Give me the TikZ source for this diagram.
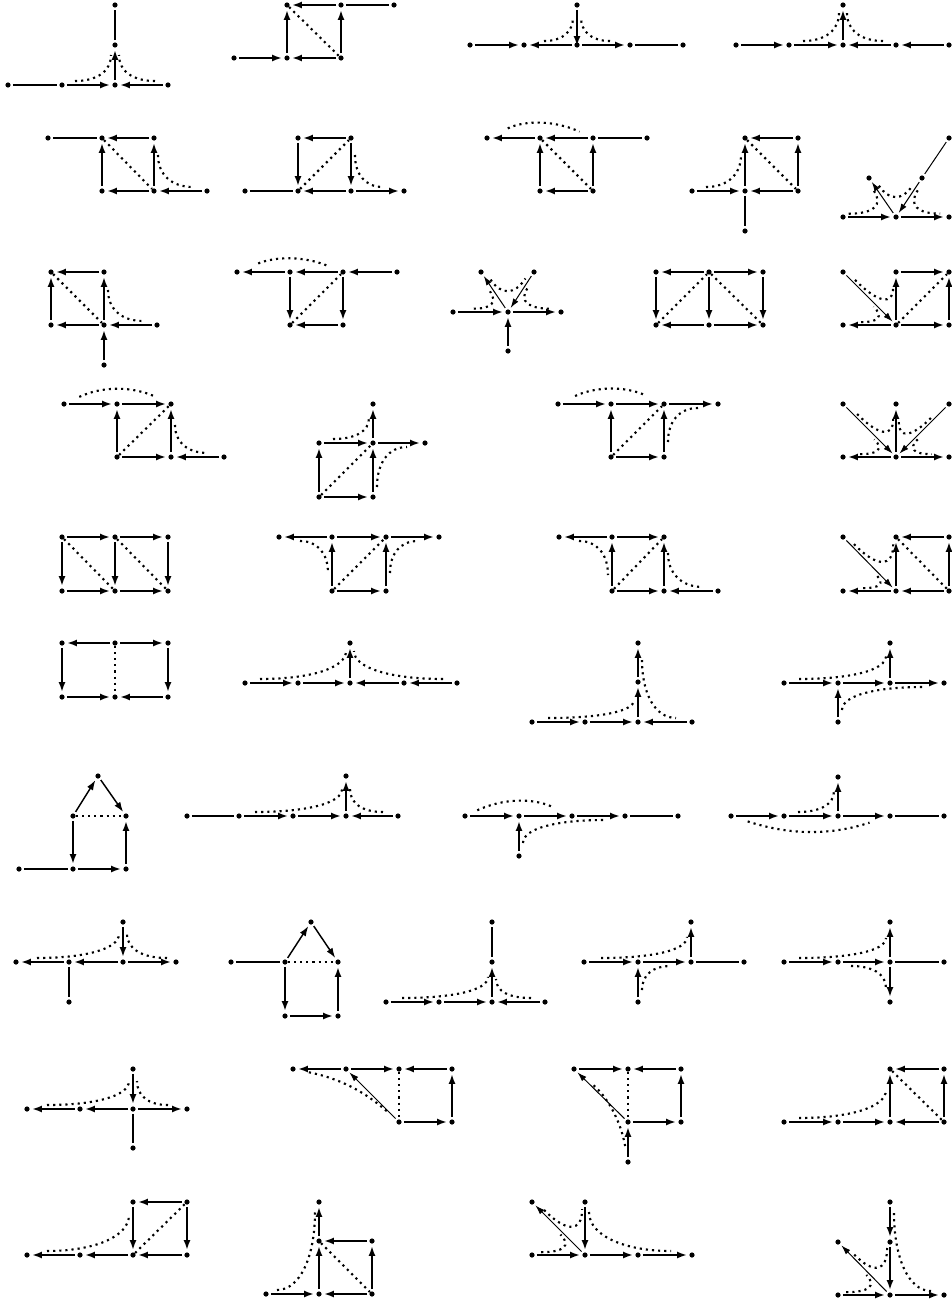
\documentclass[tikz,border=0pt]{standalone}
\usetikzlibrary{arrows.meta, calc}
\tikzset{
    vertex/.style={circle, fill, inner sep=0pt, minimum size=3.9pt},
    arr/.style={-{Latex[length=7.5pt,width=5.2pt]}, line width=1.6pt,
                shorten <=1.5pt, shorten >=1.5pt},
    barr/.style={arr, line width=2.1pt},
    marr/.style={arr, line width=1.1pt},
    tarr/.style={-{Latex[length=7pt,width=4.6pt]}, line width=0.75pt,
                 shorten <=1.5pt, shorten >=1.5pt},
    seg/.style={-, line width=1.6pt, shorten <=1.5pt, shorten >=1.5pt},
    bseg/.style={seg, line width=2.1pt},
    tseg/.style={seg, line width=0.75pt},
    dotl/.style={line width=1.6pt, dash pattern=on 1.6pt off 3pt},
}
% dotted curve in the corner at #1 between the arms to #2 and #3,
% reaching #4 and #5 units along them
\newcommand{\cornerdots}[5]{%
    \draw[dotl] ($(#1.center)!#4*0.75pt!(#2.center) + (#1.center)!3pt!(#3.center) - (#1.center)$)
        .. controls ($(#1.center)!#4*0.34pt!(#2.center) + (#1.center)!3pt!(#3.center) - (#1.center)$)
        and ($(#1.center)!3pt!(#2.center) + (#1.center)!#5*0.34pt!(#3.center) - (#1.center)$)
        .. ($(#1.center)!3pt!(#2.center) + (#1.center)!#5*0.75pt!(#3.center) - (#1.center)$);}

\begin{document}
\begin{tikzpicture}[x=0.75pt, y=0.75pt]
    \useasboundingbox (0,0) rectangle (952,-1303);

    % row 1
    \node[vertex] (g1a) at (8,-85) {};   \node[vertex] (g1b) at (62,-85) {};
    \node[vertex] (g1c) at (115,-85) {}; \node[vertex] (g1d) at (168,-85) {};
    \node[vertex] (g1e) at (115,-45) {}; \node[vertex] (g1f) at (115,-5) {};
    \draw[seg] (g1a) -- (g1b); \draw[arr] (g1b) -- (g1c); \draw[arr] (g1d) -- (g1c);
    \draw[arr] (g1c) -- (g1e); \draw[seg] (g1e) -- (g1f);
    \cornerdots{g1c}{g1b}{g1e}{40}{30} \cornerdots{g1c}{g1d}{g1e}{40}{30}

    \node[vertex] (g2a) at (234,-58) {}; \node[vertex] (g2b) at (287,-58) {};
    \node[vertex] (g2c) at (341,-58) {}; \node[vertex] (g2d) at (287,-5) {};
    \node[vertex] (g2e) at (341,-5) {};  \node[vertex] (g2f) at (394,-5) {};
    \draw[arr] (g2a) -- (g2b); \draw[arr] (g2c) -- (g2b); \draw[arr] (g2b) -- (g2d);
    \draw[arr] (g2c) -- (g2e); \draw[arr] (g2e) -- (g2d); \draw[seg] (g2e) -- (g2f);
    \draw[dotl] (g2d) -- (g2c);

    \node[vertex] (g3a) at (470,-45) {}; \node[vertex] (g3b) at (524,-45) {};
    \node[vertex] (g3c) at (577,-45) {}; \node[vertex] (g3d) at (577,-5) {};
    \node[vertex] (g3e) at (630,-45) {}; \node[vertex] (g3f) at (683,-45) {};
    \draw[arr] (g3a) -- (g3b); \draw[arr] (g3c) -- (g3b); \draw[arr] (g3c) -- (g3e);
    \draw[seg] (g3e) -- (g3f); \draw[barr, shorten >=-3pt] (g3d) -- (g3c);
    \cornerdots{g3c}{g3b}{g3d}{33}{28} \cornerdots{g3c}{g3e}{g3d}{33}{28}

    \node[vertex] (g4a) at (736,-45) {}; \node[vertex] (g4b) at (789,-45) {};
    \node[vertex] (g4c) at (843,-45) {}; \node[vertex] (g4d) at (843,-5) {};
    \node[vertex] (g4e) at (896,-45) {}; \node[vertex] (g4f) at (949,-45) {};
    \draw[arr] (g4a) -- (g4b); \draw[arr] (g4b) -- (g4c); \draw[arr] (g4e) -- (g4c);
    \draw[arr] (g4f) -- (g4e); \draw[arr] (g4c) -- (g4d);
    \cornerdots{g4c}{g4b}{g4d}{40}{32} \cornerdots{g4c}{g4e}{g4d}{40}{32}

    % row 2
    \node[vertex] (g5a) at (48,-138) {};  \node[vertex] (g5b) at (102,-138) {};
    \node[vertex] (g5c) at (154,-138) {}; \node[vertex] (g5d) at (102,-191) {};
    \node[vertex] (g5e) at (154,-191) {}; \node[vertex] (g5f) at (207,-191) {};
    \draw[seg] (g5a) -- (g5b); \draw[arr] (g5c) -- (g5b); \draw[arr] (g5e) -- (g5d);
    \draw[arr] (g5f) -- (g5e); \draw[arr] (g5d) -- (g5b); \draw[arr] (g5e) -- (g5c);
    \draw[dotl] (g5b) -- (g5e);
    \cornerdots{g5e}{g5c}{g5f}{36}{39}

    \node[vertex] (g6a) at (245,-191) {}; \node[vertex] (g6b) at (298,-191) {};
    \node[vertex] (g6c) at (351,-191) {}; \node[vertex] (g6d) at (404,-191) {};
    \node[vertex] (g6e) at (298,-138) {}; \node[vertex] (g6f) at (351,-138) {};
    \draw[seg] (g6a) -- (g6b); \draw[arr] (g6f) -- (g6e); \draw[barr] (g6e) -- (g6b);
    \draw[barr] (g6f) -- (g6c); \draw[arr] (g6c) -- (g6b); \draw[arr] (g6c) -- (g6d);
    \draw[dotl] (g6b) -- (g6f);
    \cornerdots{g6c}{g6f}{g6d}{36}{32}

    \node[vertex] (g7a) at (487,-138) {}; \node[vertex] (g7b) at (540,-138) {};
    \node[vertex] (g7c) at (593,-138) {}; \node[vertex] (g7d) at (647,-138) {};
    \node[vertex] (g7e) at (540,-191) {}; \node[vertex] (g7f) at (593,-191) {};
    \draw[arr] (g7b) -- (g7a); \draw[arr] (g7c) -- (g7b); \draw[seg] (g7c) -- (g7d);
    \draw[arr] (g7f) -- (g7e); \draw[arr] (g7e) -- (g7b); \draw[arr] (g7f) -- (g7c);
    \draw[dotl] (g7b) -- (g7f);
    \draw[dotl, shorten <=15pt, shorten >=9pt] (g7a) to[bend left=25] (g7c);

    \node[vertex] (g8a) at (692,-191) {}; \node[vertex] (g8b) at (745,-191) {};
    \node[vertex] (g8c) at (798,-191) {}; \node[vertex] (g8d) at (745,-138) {};
    \node[vertex] (g8e) at (798,-138) {}; \node[vertex] (g8f) at (745,-231) {};
    \draw[arr] (g8e) -- (g8d); \draw[arr] (g8a) -- (g8b); \draw[arr] (g8c) -- (g8b);
    \draw[arr] (g8b) -- (g8d); \draw[arr] (g8c) -- (g8e); \draw[seg] (g8b) -- (g8f);
    \draw[dotl] (g8d) -- (g8c);
    \cornerdots{g8b}{g8a}{g8d}{39}{36}

    \node[vertex] (g9a) at (843,-217) {}; \node[vertex] (g9b) at (896,-217) {};
    \node[vertex] (g9c) at (949,-217) {}; \node[vertex] (g9d) at (869,-178) {};
    \node[vertex] (g9e) at (922,-178) {}; \node[vertex] (g9f) at (949,-138) {};
    \draw[barr] (g9a) -- (g9b); \draw[barr] (g9b) -- (g9c); \draw[tarr] (g9b) -- (g9d);
    \draw[tseg] (g9f) -- (g9e); \draw[tarr] (g9e) -- (g9b);
    \cornerdots{g9b}{g9a}{g9d}{45}{32} \cornerdots{g9b}{g9d}{g9e}{34}{34}
    \cornerdots{g9b}{g9e}{g9c}{32}{42}

    % row 3
    \node[vertex] (g10a) at (51,-272) {};  \node[vertex] (g10b) at (104,-272) {};
    \node[vertex] (g10c) at (51,-325) {};  \node[vertex] (g10d) at (104,-325) {};
    \node[vertex] (g10e) at (157,-325) {}; \node[vertex] (g10f) at (104,-365) {};
    \draw[arr] (g10b) -- (g10a); \draw[barr] (g10c) -- (g10a); \draw[arr] (g10d) -- (g10b);
    \draw[arr] (g10d) -- (g10c); \draw[arr] (g10e) -- (g10d); \draw[barr] (g10f) -- (g10d);
    \draw[dotl] (g10a) -- (g10d);
    \cornerdots{g10d}{g10b}{g10e}{35}{39}

    \node[vertex] (g11a) at (237,-272) {}; \node[vertex] (g11b) at (290,-272) {};
    \node[vertex] (g11c) at (343,-272) {}; \node[vertex] (g11d) at (397,-272) {};
    \node[vertex] (g11e) at (290,-325) {}; \node[vertex] (g11f) at (343,-325) {};
    \draw[arr] (g11b) -- (g11a); \draw[arr] (g11c) -- (g11b); \draw[arr] (g11d) -- (g11c);
    \draw[arr] (g11b) -- (g11e); \draw[arr] (g11c) -- (g11f); \draw[arr] (g11f) -- (g11e);
    \draw[dotl] (g11e) -- (g11c);
    \draw[dotl, shorten <=15pt, shorten >=11pt] (g11a) to[bend left=22] (g11c);

    \node[vertex] (g12a) at (453,-312) {}; \node[vertex] (g12b) at (508,-312) {};
    \node[vertex] (g12c) at (561,-312) {}; \node[vertex] (g12d) at (481,-272) {};
    \node[vertex] (g12e) at (534,-272) {}; \node[vertex] (g12f) at (508,-351) {};
    \draw[barr] (g12a) -- (g12b); \draw[barr] (g12b) -- (g12c); \draw[tarr] (g12b) -- (g12d);
    \draw[tarr] (g12e) -- (g12b); \draw[barr] (g12f) -- (g12b);
    \cornerdots{g12b}{g12a}{g12d}{32}{25} \cornerdots{g12b}{g12d}{g12e}{35}{36}
    \cornerdots{g12b}{g12e}{g12c}{28}{40}

    \node[vertex] (g13a) at (656,-272) {}; \node[vertex] (g13b) at (709,-272) {};
    \node[vertex] (g13c) at (763,-272) {}; \node[vertex] (g13d) at (656,-325) {};
    \node[vertex] (g13e) at (709,-325) {}; \node[vertex] (g13f) at (763,-325) {};
    \draw[arr] (g13b) -- (g13a); \draw[arr] (g13b) -- (g13c); \draw[arr] (g13a) -- (g13d);
    \draw[arr] (g13b) -- (g13e); \draw[arr] (g13c) -- (g13f); \draw[arr] (g13e) -- (g13d);
    \draw[arr] (g13e) -- (g13f);
    \draw[dotl] (g13d) -- (g13b); \draw[dotl] (g13b) -- (g13f);

    \node[vertex] (g14a) at (843,-272) {}; \node[vertex] (g14b) at (896,-272) {};
    \node[vertex] (g14c) at (949,-272) {}; \node[vertex] (g14d) at (843,-325) {};
    \node[vertex] (g14e) at (896,-325) {}; \node[vertex] (g14f) at (949,-325) {};
    \draw[tarr] (g14a) -- (g14e); \draw[arr] (g14e) -- (g14b); \draw[arr] (g14b) -- (g14c);
    \draw[arr] (g14e) -- (g14d); \draw[arr] (g14e) -- (g14f); \draw[barr] (g14f) -- (g14c);
    \draw[dotl] (g14e) -- (g14c);
    \cornerdots{g14e}{g14d}{g14a}{32}{26} \cornerdots{g14e}{g14a}{g14b}{58}{35}

    % row 4
    \node[vertex] (g15a) at (64,-404) {};  \node[vertex] (g15b) at (117,-404) {};
    \node[vertex] (g15c) at (171,-404) {}; \node[vertex] (g15d) at (117,-457) {};
    \node[vertex] (g15e) at (171,-457) {}; \node[vertex] (g15f) at (224,-457) {};
    \draw[arr] (g15a) -- (g15b); \draw[arr] (g15b) -- (g15c); \draw[arr] (g15d) -- (g15b);
    \draw[barr] (g15d) -- (g15e); \draw[arr] (g15f) -- (g15e); \draw[arr] (g15e) -- (g15c);
    \draw[dotl] (g15d) -- (g15c);
    \draw[dotl, shorten <=10.5pt, shorten >=10.5pt] (g15a) to[bend left=25] (g15c);
    \cornerdots{g15e}{g15c}{g15f}{32}{37}

    \node[vertex] (g16a) at (373,-404) {}; \node[vertex] (g16b) at (319,-443) {};
    \node[vertex] (g16c) at (373,-443) {}; \node[vertex] (g16d) at (425,-443) {};
    \node[vertex] (g16e) at (319,-497) {}; \node[vertex] (g16f) at (373,-497) {};
    \draw[arr] (g16b) -- (g16c); \draw[arr] (g16c) -- (g16a); \draw[arr] (g16c) -- (g16d);
    \draw[barr] (g16e) -- (g16b); \draw[barr] (g16e) -- (g16f); \draw[arr] (g16f) -- (g16c);
    \draw[dotl] (g16e) -- (g16c);
    \cornerdots{g16c}{g16b}{g16a}{40}{25} \cornerdots{g16c}{g16f}{g16d}{44}{34}

    \node[vertex] (g17a) at (558,-404) {}; \node[vertex] (g17b) at (611,-404) {};
    \node[vertex] (g17c) at (664,-404) {}; \node[vertex] (g17d) at (718,-404) {};
    \node[vertex] (g17e) at (611,-457) {}; \node[vertex] (g17f) at (664,-457) {};
    \draw[arr] (g17a) -- (g17b); \draw[arr] (g17b) -- (g17c); \draw[arr] (g17c) -- (g17d);
    \draw[arr] (g17e) -- (g17b); \draw[arr] (g17f) -- (g17c); \draw[arr] (g17e) -- (g17f);
    \draw[dotl] (g17e) -- (g17c);
    \draw[dotl, shorten <=12pt, shorten >=13.5pt] (g17a) to[bend left=25] (g17c);
    \cornerdots{g17c}{g17f}{g17d}{38}{34}

    \node[vertex] (g18a) at (843,-404) {}; \node[vertex] (g18b) at (896,-404) {};
    \node[vertex] (g18c) at (949,-404) {}; \node[vertex] (g18d) at (843,-457) {};
    \node[vertex] (g18e) at (896,-457) {}; \node[vertex] (g18f) at (949,-457) {};
    \draw[tarr] (g18a) -- (g18e); \draw[tarr] (g18c) -- (g18e); \draw[arr] (g18e) -- (g18b);
    \draw[arr] (g18e) -- (g18d); \draw[arr] (g18e) -- (g18f);
    \cornerdots{g18e}{g18d}{g18a}{33}{25} \cornerdots{g18e}{g18a}{g18b}{55}{35}
    \cornerdots{g18e}{g18b}{g18c}{32}{51} \cornerdots{g18e}{g18c}{g18f}{25}{33}

    % row 5
    \node[vertex] (g19a) at (62,-537) {};  \node[vertex] (g19b) at (115,-537) {};
    \node[vertex] (g19c) at (168,-537) {}; \node[vertex] (g19d) at (62,-591) {};
    \node[vertex] (g19e) at (115,-591) {}; \node[vertex] (g19f) at (168,-591) {};
    \draw[arr] (g19a) -- (g19b); \draw[arr] (g19b) -- (g19c); \draw[arr] (g19a) -- (g19d);
    \draw[arr] (g19b) -- (g19e); \draw[arr] (g19c) -- (g19f); \draw[arr] (g19d) -- (g19e);
    \draw[arr] (g19e) -- (g19f);
    \draw[dotl] (g19a) -- (g19e); \draw[dotl] (g19b) -- (g19f);

    \node[vertex] (g20a) at (279,-537) {}; \node[vertex] (g20b) at (332,-537) {};
    \node[vertex] (g20c) at (386,-537) {}; \node[vertex] (g20d) at (439,-537) {};
    \node[vertex] (g20e) at (332,-591) {}; \node[vertex] (g20f) at (386,-591) {};
    \draw[arr] (g20b) -- (g20a); \draw[arr] (g20b) -- (g20c); \draw[arr] (g20c) -- (g20d);
    \draw[arr] (g20e) -- (g20b); \draw[arr] (g20f) -- (g20c); \draw[arr] (g20e) -- (g20f);
    \draw[dotl] (g20e) -- (g20c);
    \cornerdots{g20b}{g20a}{g20e}{32}{36} \cornerdots{g20c}{g20f}{g20d}{36}{32}

    \node[vertex] (g21a) at (559,-537) {}; \node[vertex] (g21b) at (612,-537) {};
    \node[vertex] (g21c) at (664,-537) {}; \node[vertex] (g21d) at (612,-591) {};
    \node[vertex] (g21e) at (664,-591) {}; \node[vertex] (g21f) at (718,-591) {};
    \draw[arr] (g21b) -- (g21a); \draw[arr] (g21b) -- (g21c); \draw[arr] (g21d) -- (g21b);
    \draw[arr] (g21e) -- (g21c); \draw[arr] (g21d) -- (g21e); \draw[arr] (g21f) -- (g21e);
    \draw[dotl] (g21d) -- (g21c);
    \cornerdots{g21b}{g21a}{g21d}{33}{38} \cornerdots{g21e}{g21c}{g21f}{38}{39}

    \node[vertex] (g22a) at (843,-537) {}; \node[vertex] (g22b) at (896,-537) {};
    \node[vertex] (g22c) at (949,-537) {}; \node[vertex] (g22d) at (843,-591) {};
    \node[vertex] (g22e) at (896,-591) {}; \node[vertex] (g22f) at (949,-591) {};
    \draw[tarr] (g22a) -- (g22e); \draw[arr] (g22e) -- (g22b); \draw[arr] (g22c) -- (g22b);
    \draw[arr] (g22e) -- (g22d); \draw[arr] (g22f) -- (g22e); \draw[arr] (g22f) -- (g22c);
    \draw[dotl] (g22b) -- (g22f);
    \cornerdots{g22e}{g22d}{g22a}{30}{22} \cornerdots{g22e}{g22a}{g22b}{60}{44}

    % row 6
    \node[vertex] (g23a) at (62,-643) {};  \node[vertex] (g23b) at (115,-643) {};
    \node[vertex] (g23c) at (168,-643) {}; \node[vertex] (g23d) at (62,-697) {};
    \node[vertex] (g23e) at (115,-697) {}; \node[vertex] (g23f) at (168,-697) {};
    \draw[barr] (g23b) -- (g23a); \draw[barr] (g23b) -- (g23c); \draw[arr] (g23a) -- (g23d);
    \draw[arr] (g23c) -- (g23f); \draw[barr] (g23d) -- (g23e); \draw[barr] (g23f) -- (g23e);
    \draw[dotl] (g23b) -- (g23e);

    \node[vertex] (g24a) at (245,-683) {}; \node[vertex] (g24b) at (298,-683) {};
    \node[vertex] (g24c) at (350,-683) {}; \node[vertex] (g24d) at (404,-683) {};
    \node[vertex] (g24e) at (457,-683) {}; \node[vertex] (g24f) at (350,-643) {};
    \draw[arr] (g24a) -- (g24b); \draw[arr] (g24b) -- (g24c); \draw[arr] (g24d) -- (g24c);
    \draw[arr] (g24e) -- (g24d); \draw[barr] (g24c) -- (g24f);
    \cornerdots{g24c}{g24a}{g24f}{90}{32} \cornerdots{g24c}{g24e}{g24f}{93}{32}

    \node[vertex] (g25a) at (532,-722) {}; \node[vertex] (g25b) at (585,-722) {};
    \node[vertex] (g25c) at (638,-722) {}; \node[vertex] (g25d) at (692,-722) {};
    \node[vertex] (g25e) at (638,-682) {}; \node[vertex] (g25f) at (638,-643) {};
    \draw[arr] (g25a) -- (g25b); \draw[arr] (g25b) -- (g25c); \draw[arr] (g25d) -- (g25c);
    \draw[arr] (g25c) -- (g25e); \draw[arr] (g25e) -- (g25f);
    \cornerdots{g25c}{g25a}{g25e}{90}{22} \cornerdots{g25c}{g25f}{g25d}{62}{38}

    \node[vertex] (g26a) at (784,-683) {}; \node[vertex] (g26b) at (838,-683) {};
    \node[vertex] (g26c) at (890,-683) {}; \node[vertex] (g26d) at (944,-683) {};
    \node[vertex] (g26e) at (890,-643) {}; \node[vertex] (g26f) at (838,-722) {};
    \draw[barr] (g26a) -- (g26b); \draw[barr] (g26b) -- (g26c); \draw[barr] (g26c) -- (g26d);
    \draw[arr] (g26c) -- (g26e); \draw[arr] (g26f) -- (g26b);
    \cornerdots{g26c}{g26a}{g26e}{91}{27} \cornerdots{g26b}{g26f}{g26d}{27}{85}

    % row 7
    \node[vertex] (g27a) at (98,-776) {};  \node[vertex] (g27b) at (73,-816) {};
    \node[vertex] (g27c) at (126,-816) {}; \node[vertex] (g27d) at (19,-869) {};
    \node[vertex] (g27e) at (73,-869) {};  \node[vertex] (g27f) at (126,-869) {};
    \draw[marr] (g27b) -- (g27a); \draw[marr] (g27a) -- (g27c); \draw[barr] (g27b) -- (g27e);
    \draw[bseg] (g27d) -- (g27e); \draw[barr] (g27e) -- (g27f); \draw[arr] (g27f) -- (g27c);
    \draw[dotl] (g27b) -- (g27c);

    \node[vertex] (g28a) at (187,-816) {}; \node[vertex] (g28b) at (239,-816) {};
    \node[vertex] (g28c) at (293,-816) {}; \node[vertex] (g28d) at (346,-816) {};
    \node[vertex] (g28e) at (398,-816) {}; \node[vertex] (g28f) at (346,-776) {};
    \draw[seg] (g28a) -- (g28b); \draw[arr] (g28b) -- (g28c); \draw[arr] (g28c) -- (g28d);
    \draw[arr] (g28e) -- (g28d); \draw[arr] (g28d) -- (g28f);
    \cornerdots{g28d}{g28b}{g28f}{91}{27} \cornerdots{g28d}{g28e}{g28f}{37}{27}

    \node[vertex] (g29a) at (465,-816) {}; \node[vertex] (g29b) at (519,-816) {};
    \node[vertex] (g29c) at (572,-816) {}; \node[vertex] (g29d) at (625,-816) {};
    \node[vertex] (g29e) at (678,-816) {}; \node[vertex] (g29f) at (519,-856) {};
    \draw[arr] (g29a) -- (g29b); \draw[arr] (g29b) -- (g29c); \draw[arr] (g29c) -- (g29d);
    \draw[seg] (g29d) -- (g29e); \draw[arr] (g29f) -- (g29b);
    \draw[dotl, shorten <=8pt, shorten >=14pt] (g29a) to[bend left=25] (g29c);
    \cornerdots{g29b}{g29f}{g29d}{27}{85}

    \node[vertex] (g30a) at (731,-816) {}; \node[vertex] (g30b) at (784,-816) {};
    \node[vertex] (g30c) at (838,-816) {}; \node[vertex] (g30d) at (890,-816) {};
    \node[vertex] (g30e) at (944,-816) {}; \node[vertex] (g30f) at (838,-777) {};
    \draw[arr] (g30a) -- (g30b); \draw[arr] (g30b) -- (g30c); \draw[arr] (g30c) -- (g30d);
    \draw[seg] (g30d) -- (g30e); \draw[arr] (g30c) -- (g30f);
    \cornerdots{g30c}{g30b}{g30f}{40}{25}
    \draw[dotl, shorten <=11pt, shorten >=14pt] (g30a) to[bend right=18] (g30d);

    % row 8
    \node[vertex] (g31a) at (16,-962) {};  \node[vertex] (g31b) at (69,-962) {};
    \node[vertex] (g31c) at (123,-962) {}; \node[vertex] (g31d) at (176,-962) {};
    \node[vertex] (g31e) at (123,-922) {}; \node[vertex] (g31f) at (69,-1002) {};
    \draw[barr] (g31b) -- (g31a); \draw[barr] (g31c) -- (g31b); \draw[barr] (g31c) -- (g31d);
    \draw[arr] (g31e) -- (g31c); \draw[seg] (g31b) -- (g31f);
    \cornerdots{g31c}{g31a}{g31e}{86}{28} \cornerdots{g31c}{g31d}{g31e}{44}{28}

    \node[vertex] (g32a) at (311,-922) {}; \node[vertex] (g32b) at (231,-962) {};
    \node[vertex] (g32c) at (285,-962) {}; \node[vertex] (g32d) at (338,-962) {};
    \node[vertex] (g32e) at (285,-1016) {}; \node[vertex] (g32f) at (338,-1016) {};
    \draw[bseg] (g32b) -- (g32c); \draw[marr] (g32c) -- (g32a); \draw[marr] (g32a) -- (g32d);
    \draw[arr] (g32c) -- (g32e); \draw[barr] (g32e) -- (g32f); \draw[arr] (g32f) -- (g32d);
    \draw[dotl] (g32c) -- (g32d);

    \node[vertex] (g33a) at (386,-1002) {}; \node[vertex] (g33b) at (439,-1002) {};
    \node[vertex] (g33c) at (492,-1002) {}; \node[vertex] (g33d) at (545,-1002) {};
    \node[vertex] (g33e) at (492,-962) {};  \node[vertex] (g33f) at (492,-922) {};
    \draw[arr] (g33a) -- (g33b); \draw[arr] (g33b) -- (g33c); \draw[arr] (g33d) -- (g33c);
    \draw[arr] (g33c) -- (g33e); \draw[bseg] (g33e) -- (g33f);
    \cornerdots{g33c}{g33a}{g33e}{90}{25} \cornerdots{g33c}{g33d}{g33e}{39}{23}

    \node[vertex] (g34a) at (691,-922) {}; \node[vertex] (g34b) at (584,-962) {};
    \node[vertex] (g34c) at (638,-962) {}; \node[vertex] (g34d) at (691,-962) {};
    \node[vertex] (g34e) at (744,-962) {}; \node[vertex] (g34f) at (638,-1002) {};
    \draw[barr] (g34b) -- (g34c); \draw[barr] (g34c) -- (g34d); \draw[bseg] (g34d) -- (g34e);
    \draw[arr] (g34d) -- (g34a); \draw[arr] (g34f) -- (g34c);
    \cornerdots{g34d}{g34b}{g34a}{90}{25} \cornerdots{g34c}{g34f}{g34d}{28}{33}

    \node[vertex] (g35a) at (890,-922) {}; \node[vertex] (g35b) at (784,-962) {};
    \node[vertex] (g35c) at (838,-962) {}; \node[vertex] (g35d) at (890,-962) {};
    \node[vertex] (g35e) at (944,-962) {}; \node[vertex] (g35f) at (890,-1002) {};
    \draw[arr] (g35b) -- (g35c); \draw[arr] (g35c) -- (g35d); \draw[bseg] (g35d) -- (g35e);
    \draw[arr] (g35d) -- (g35a); \draw[arr] (g35d) -- (g35f);
    \cornerdots{g35d}{g35b}{g35a}{91}{24} \cornerdots{g35d}{g35c}{g35f}{39}{26}

    % row 9
    \node[vertex] (g36a) at (133,-1069) {}; \node[vertex] (g36b) at (27,-1109) {};
    \node[vertex] (g36c) at (80,-1109) {};  \node[vertex] (g36d) at (133,-1109) {};
    \node[vertex] (g36e) at (187,-1109) {}; \node[vertex] (g36f) at (133,-1148) {};
    \draw[barr] (g36c) -- (g36b); \draw[barr] (g36d) -- (g36c); \draw[arr] (g36d) -- (g36e);
    \draw[arr] (g36a) -- (g36d); \draw[seg] (g36d) -- (g36f);
    \cornerdots{g36d}{g36b}{g36a}{86}{28} \cornerdots{g36d}{g36e}{g36a}{35}{28}

    \node[vertex] (g37a) at (293,-1069) {}; \node[vertex] (g37b) at (346,-1069) {};
    \node[vertex] (g37c) at (399,-1069) {}; \node[vertex] (g37d) at (452,-1069) {};
    \node[vertex] (g37e) at (399,-1122) {}; \node[vertex] (g37f) at (452,-1122) {};
    \draw[arr] (g37b) -- (g37a); \draw[arr] (g37b) -- (g37c); \draw[arr] (g37d) -- (g37c);
    \draw[arr] (g37e) -- (g37f); \draw[barr] (g37f) -- (g37d); \draw[tarr] (g37e) -- (g37b);
    \draw[dotl] (g37c) -- (g37e);
    \draw[dotl, shorten <=10pt, shorten >=9pt] (g37a) to[bend left=15] (g37e);

    \node[vertex] (g38a) at (574,-1069) {}; \node[vertex] (g38b) at (628,-1069) {};
    \node[vertex] (g38c) at (681,-1069) {}; \node[vertex] (g38d) at (628,-1122) {};
    \node[vertex] (g38e) at (681,-1122) {}; \node[vertex] (g38f) at (628,-1162) {};
    \draw[arr] (g38a) -- (g38b); \draw[arr] (g38c) -- (g38b); \draw[arr] (g38e) -- (g38c);
    \draw[arr] (g38d) -- (g38e); \draw[arr] (g38f) -- (g38d); \draw[tarr] (g38d) -- (g38a);
    \draw[dotl] (g38b) -- (g38d);
    \draw[dotl, shorten <=17pt, shorten >=10pt] (g38a) to[bend left=20] (g38f);

    \node[vertex] (g39a) at (784,-1122) {}; \node[vertex] (g39b) at (838,-1122) {};
    \node[vertex] (g39c) at (890,-1122) {}; \node[vertex] (g39d) at (944,-1122) {};
    \node[vertex] (g39e) at (890,-1069) {}; \node[vertex] (g39f) at (944,-1069) {};
    \draw[arr] (g39a) -- (g39b); \draw[arr] (g39b) -- (g39c); \draw[arr] (g39d) -- (g39c);
    \draw[arr] (g39c) -- (g39e); \draw[arr] (g39f) -- (g39e); \draw[arr] (g39d) -- (g39f);
    \draw[dotl] (g39e) -- (g39d);
    \cornerdots{g39c}{g39a}{g39e}{91}{32}

    % row 10
    \node[vertex] (g40a) at (133,-1202) {}; \node[vertex] (g40b) at (187,-1202) {};
    \node[vertex] (g40c) at (27,-1255) {};  \node[vertex] (g40d) at (80,-1255) {};
    \node[vertex] (g40e) at (133,-1255) {}; \node[vertex] (g40f) at (187,-1255) {};
    \draw[barr] (g40b) -- (g40a); \draw[arr] (g40a) -- (g40e); \draw[arr] (g40b) -- (g40f);
    \draw[arr] (g40d) -- (g40c); \draw[arr] (g40e) -- (g40d); \draw[arr] (g40f) -- (g40e);
    \draw[dotl] (g40e) -- (g40b);
    \cornerdots{g40e}{g40c}{g40a}{86}{40}

    \node[vertex] (g41a) at (319,-1202) {}; \node[vertex] (g41b) at (319,-1241) {};
    \node[vertex] (g41c) at (372,-1241) {}; \node[vertex] (g41d) at (266,-1294) {};
    \node[vertex] (g41e) at (319,-1294) {}; \node[vertex] (g41f) at (372,-1294) {};
    \draw[arr] (g41b) -- (g41a); \draw[arr] (g41c) -- (g41b); \draw[arr] (g41d) -- (g41e);
    \draw[arr] (g41f) -- (g41e); \draw[barr] (g41e) -- (g41b); \draw[arr] (g41f) -- (g41c);
    \draw[dotl] (g41b) -- (g41f);
    \cornerdots{g41e}{g41d}{g41a}{42}{82}

    \node[vertex] (g42a) at (532,-1202) {}; \node[vertex] (g42b) at (585,-1202) {};
    \node[vertex] (g42c) at (532,-1255) {}; \node[vertex] (g42d) at (585,-1255) {};
    \node[vertex] (g42e) at (638,-1255) {}; \node[vertex] (g42f) at (692,-1255) {};
    \draw[arr] (g42c) -- (g42d); \draw[arr] (g42d) -- (g42e); \draw[arr] (g42e) -- (g42f);
    \draw[arr] (g42b) -- (g42d); \draw[tarr] (g42d) -- (g42a);
    \cornerdots{g42d}{g42c}{g42a}{41}{29} \cornerdots{g42d}{g42a}{g42b}{58}{43}
    \cornerdots{g42d}{g42b}{g42f}{43}{86}

    \node[vertex] (g43a) at (890,-1202) {}; \node[vertex] (g43b) at (838,-1242) {};
    \node[vertex] (g43c) at (890,-1242) {}; \node[vertex] (g43d) at (838,-1295) {};
    \node[vertex] (g43e) at (890,-1295) {}; \node[vertex] (g43f) at (944,-1295) {};
    \draw[arr] (g43a) -- (g43c); \draw[arr] (g43c) -- (g43e); \draw[arr] (g43d) -- (g43e);
    \draw[arr] (g43e) -- (g43f); \draw[tarr] (g43e) -- (g43b);
    \cornerdots{g43e}{g43d}{g43b}{41}{28} \cornerdots{g43e}{g43b}{g43c}{51}{45}
    \cornerdots{g43e}{g43a}{g43f}{82}{41}
\end{tikzpicture}
\end{document}
